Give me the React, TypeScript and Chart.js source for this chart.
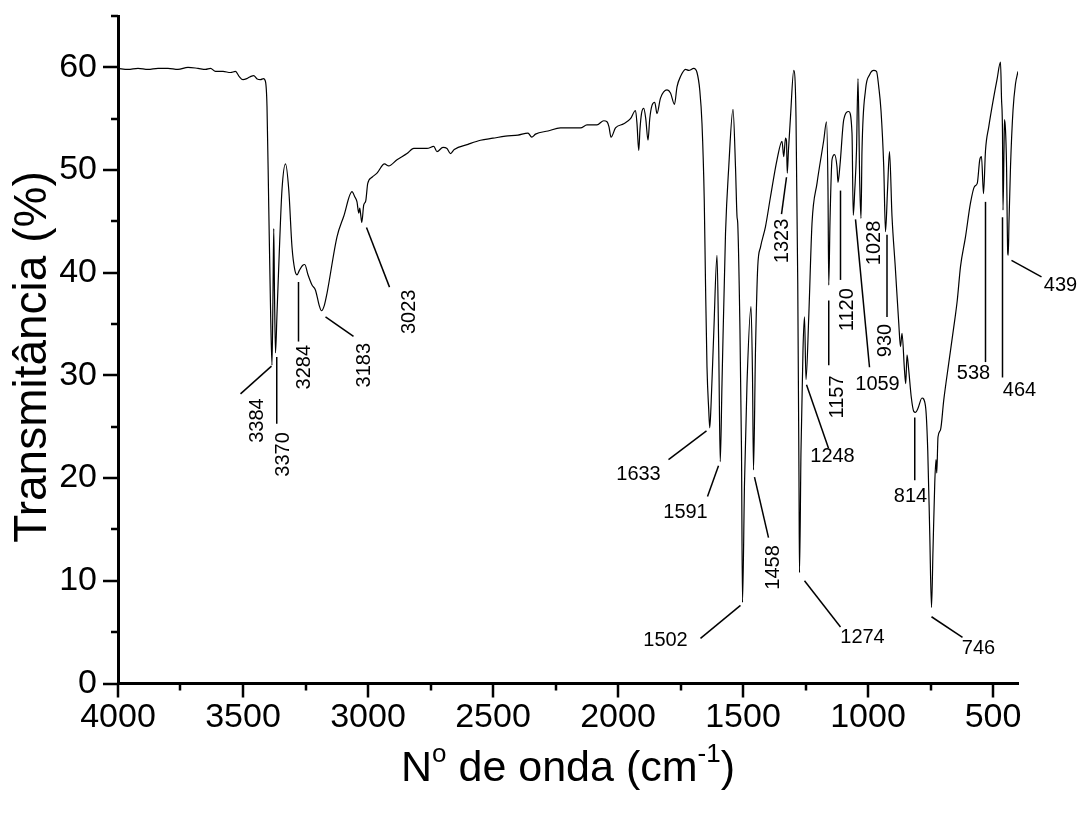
import React, { useEffect, useRef } from 'react';
import { Chart, registerables } from 'chart.js';

Chart.register(...registerables);

// ---------- DATA ----------
const wavenumbers: number[] = [
  4000, 3960, 3920, 3880, 3840, 3800, 3760, 3720, 3680, 3650, 3630, 3610, 3580, 3550, 3530, 3515, 3500, 3485, 3470, 3457,
  3445, 3430, 3418, 3410, 3404, 3397, 3390, 3384, 3380, 3377, 3374, 3370, 3364, 3353, 3344, 3330, 3317, 3304, 3293, 3284,
  3275, 3262, 3253, 3240, 3224, 3210, 3195, 3186, 3175, 3164, 3124, 3097, 3064, 3053, 3044, 3037, 3033, 3028, 3025, 3017,
  3009, 3001, 2984, 2964, 2934, 2917, 2884, 2844, 2817, 2764, 2737, 2724, 2700, 2684, 2670, 2655, 2600, 2550, 2500, 2450,
  2400, 2360, 2345, 2330, 2280, 2230, 2150, 2124, 2084, 2057, 2044, 2036, 2028, 2010, 1977, 1950, 1930, 1924, 1917, 1912,
  1906, 1897, 1889, 1880, 1873, 1864, 1853, 1844, 1830, 1804, 1790, 1774, 1764, 1750, 1730, 1717, 1697, 1684, 1673, 1664,
  1655, 1650, 1644, 1637, 1633, 1628, 1617, 1604, 1597, 1591, 1584, 1570, 1557, 1540, 1530, 1524, 1521, 1513, 1506, 1502,
  1494, 1484, 1468, 1462, 1458, 1450, 1441, 1430, 1410, 1390, 1364, 1344, 1337, 1330, 1326, 1323, 1318, 1310, 1297, 1288,
  1281, 1276, 1274, 1268, 1260, 1254, 1248, 1237, 1224, 1204, 1177, 1166, 1160, 1157, 1152, 1144, 1134, 1124, 1120, 1112,
  1097, 1077, 1064, 1059, 1053, 1046, 1040, 1033, 1028, 1024, 1010, 993, 977, 966, 957, 948, 937, 930, 922, 914,
  904, 891, 877, 870, 864, 854, 849, 844, 837, 827, 817, 810, 800, 784, 770, 761, 753, 746, 740, 733,
  728, 725, 720, 710, 697, 677, 657, 643, 630, 610, 590, 574, 563, 553, 546, 538, 530, 517, 497, 484,
  470, 466, 462, 460, 456, 454, 450, 446, 441, 439, 436, 430, 420, 410, 400,
];

const transmittance: number[] = [
  59.9, 59.8, 59.9, 59.8, 59.9, 59.9, 59.8, 60.0, 59.9, 59.8, 59.9, 59.6, 59.6, 59.5, 59.6, 59.1, 58.8, 58.9, 59.1, 59.2,
  58.9, 58.8, 58.9, 58.6, 56.2, 46.4, 36.7, 31.0, 38.0, 44.3, 38.0, 32.2, 36.0, 43.2, 48.1, 50.6, 48.1, 42.5, 40.3, 39.8,
  40.2, 40.7, 40.8, 39.8, 38.8, 38.3, 36.8, 36.3, 36.8, 38.0, 43.5, 45.5, 47.9, 47.4, 46.9, 45.8, 46.3, 45.4, 44.9, 46.6,
  47.0, 48.7, 49.3, 49.7, 50.6, 50.4, 51.0, 51.6, 52.1, 52.1, 52.3, 51.8, 52.2, 52.1, 51.6, 52.0, 52.5, 52.9, 53.1, 53.3,
  53.4, 53.6, 53.2, 53.5, 53.8, 54.1, 54.1, 54.4, 54.4, 54.8, 54.7, 54.2, 53.2, 54.1, 54.5, 55.0, 55.8, 54.5, 51.9, 54.0,
  55.5, 56.0, 55.0, 52.9, 55.0, 56.3, 56.6, 55.5, 57.0, 57.8, 57.5, 56.4, 58.1, 59.1, 59.8, 59.7, 59.9, 59.5, 57.8, 54.5,
  47.1, 39.0, 30.8, 26.6, 24.9, 27.0, 34.1, 41.7, 32.5, 21.6, 29.2, 43.8, 50.3, 55.9, 50.3, 45.5, 44.8, 35.7, 22.7, 7.9,
  19.5, 29.2, 36.7, 30.0, 20.8, 32.5, 40.6, 42.5, 44.5, 47.4, 51.0, 52.8, 51.3, 53.1, 52.8, 49.7, 52.0, 55.2, 59.7, 55.2,
  39.0, 19.5, 10.8, 22.7, 32.5, 35.7, 29.6, 35.7, 44.8, 48.7, 52.9, 54.7, 48.0, 38.8, 45.0, 51.0, 51.5, 50.3, 48.8, 50.5,
  54.9, 55.7, 53.6, 45.6, 48.0, 51.9, 58.9, 48.7, 45.3, 51.9, 57.8, 59.3, 59.7, 59.6, 58.1, 55.8, 50.3, 44.0, 48.0, 51.8,
  45.5, 40.6, 35.1, 32.8, 34.1, 30.5, 29.2, 32.0, 30.5, 27.9, 26.5, 26.4, 26.8, 27.8, 27.0, 22.7, 14.6, 7.4, 13.0, 19.5,
  21.8, 20.5, 24.0, 24.7, 27.6, 31.2, 34.7, 37.3, 40.6, 43.5, 46.8, 48.4, 48.7, 51.0, 51.3, 47.7, 51.9, 54.2, 57.1, 58.8,
  60.5, 57.0, 53.6, 46.1, 52.0, 54.9, 53.9, 50.7, 41.9, 41.7, 45.0, 50.3, 55.8, 58.4, 59.6,
];

const xTickValues: number[] = [4000, 3750, 3500, 3250, 3000, 2750, 2500, 2250, 2000, 1750, 1500, 1250, 1000, 750, 500];
const yTickValues: number[] = [0, 5, 10, 15, 20, 25, 30, 35, 40, 45, 50, 55, 60, 65];

// peak annotations (label text, leader line ends and label centre, all in data units)
const peakLabels: string[] = [
  '3384', '3370', '3284', '3183', '3023', '1633', '1591', '1502', '1458', '1323', '1274', '1248',
  '1157', '1120', '1059', '1028', '930', '814', '746', '538', '464', '439',
];
const leaderFrom: (number[] | null)[] = [
  [3386, 30.9], [3365, 31.8], [3278, 39.1], [3170, 35.7], [3006, 44.4], [1646, 24.6], [1598, 21.2], [1510, 7.6],
  [1454, 20.1], [1326, 49.3], [1254, 10.0], [1246, 29.1], [1157, 37.3], [1110, 48.0], [1050, 45.2], null,
  [924, 43.7], [813, 25.9], [746, 6.5], [530, 46.9], [462, 45.4], [426, 41.2],
];
const leaderTo: (number[] | null)[] = [
  [3510, 28.2], [3365, 25.3], [3278, 33.3], [3058, 33.8], [2914, 38.6], [1798, 21.8], [1642, 18.2], [1670, 4.4],
  [1398, 14.2], [1346, 45.7], [1110, 5.5], [1158, 22.9], [1157, 31.0], [1110, 39.3], [994, 30.8], null,
  [924, 35.7], [813, 19.8], [622, 4.5], [530, 31.3], [462, 29.8], [306, 39.6],
];
const labelAt: number[][] = [
  [3442, 25.6], [3338, 22.3], [3254, 30.8], [3014, 31.0], [2834, 36.2], [1918, 20.4], [1730, 16.7], [1810, 4.2],
  [1378, 11.3], [1342, 43.1], [1022, 4.5], [1142, 22.1], [1122, 27.9], [1082, 36.4], [962, 29.1], [974, 42.9],
  [932, 33.4], [830, 18.2], [558, 3.4], [578, 30.2], [394, 28.5], [230, 38.8],
];
const labelVertical: boolean[] = [
  true, true, true, true, true, false, false, false, true, true, false, false,
  true, true, false, true, true, false, false, false, false, false,
];

const FONT = "'Liberation Sans', Arial, Helvetica, sans-serif";

const overlayPlugin = {
  id: 'overlay',
  afterDraw(chart: any) {
    const ctx = chart.ctx as CanvasRenderingContext2D;
    const xs = chart.scales.x;
    const ys = chart.scales.y;
    const area = chart.chartArea;
    ctx.save();
    ctx.strokeStyle = '#000';
    ctx.fillStyle = '#000';
    // tick marks
    ctx.lineWidth = 2.5;
    ctx.beginPath();
    xTickValues.forEach((v) => {
      const px = Math.round(xs.getPixelForValue(v));
      const len = v % 500 === 0 ? 14 : 7;
      ctx.moveTo(px, area.bottom);
      ctx.lineTo(px, area.bottom + len);
    });
    yTickValues.forEach((v) => {
      const py = Math.round(ys.getPixelForValue(v));
      const len = v % 10 === 0 ? 15 : 7;
      ctx.moveTo(area.left, py);
      ctx.lineTo(area.left - len, py);
    });
    ctx.stroke();

    // peak annotations
    ctx.lineWidth = 1.5;
    ctx.font = `20px ${FONT}`;
    ctx.textAlign = 'center';
    ctx.textBaseline = 'middle';
    peakLabels.forEach((lab, i) => {
      const a = leaderFrom[i];
      const b = leaderTo[i];
      if (a && b) {
        ctx.beginPath();
        ctx.moveTo(xs.getPixelForValue(a[0]), ys.getPixelForValue(a[1]));
        ctx.lineTo(xs.getPixelForValue(b[0]), ys.getPixelForValue(b[1]));
        ctx.stroke();
      }
      const px = xs.getPixelForValue(labelAt[i][0]);
      const py = ys.getPixelForValue(labelAt[i][1]);
      ctx.save();
      ctx.translate(px, py);
      if (labelVertical[i]) ctx.rotate(-Math.PI / 2);
      ctx.fillText(lab, 0, 0);
      ctx.restore();
    });

    // y title
    ctx.save();
    ctx.translate(33, 357);
    ctx.rotate(-Math.PI / 2);
    ctx.font = `46px ${FONT}`;
    ctx.textAlign = 'center';
    ctx.textBaseline = 'middle';
    ctx.fillText('Transmitância (%)', 0, 0);
    ctx.restore();

    // x title with superscripts
    const big = `43px ${FONT}`;
    const small = `26px ${FONT}`;
    const parts: [string, boolean][] = [['N', false], ['o', true], [' de onda (cm', false], ['-1', true], [')', false]];
    let total = 0;
    parts.forEach(([t, sup]) => {
      ctx.font = sup ? small : big;
      total += ctx.measureText(t).width;
    });
    let cx = (area.left + area.right) / 2 - total / 2;
    const base = 781;
    ctx.textAlign = 'left';
    ctx.textBaseline = 'alphabetic';
    parts.forEach(([t, sup]) => {
      ctx.font = sup ? small : big;
      ctx.fillText(t, cx, sup ? base - 19 : base);
      cx += ctx.measureText(t).width;
    });
    ctx.restore();
  },
};

export default function App() {
  const ref = useRef<HTMLCanvasElement | null>(null);
  useEffect(() => {
    if (!ref.current) return;
    const points = wavenumbers.map((x, i) => ({ x, y: transmittance[i] }));
    const chart = new Chart(ref.current, {
      type: 'line',
      data: {
        datasets: [
          {
            data: points,
            borderColor: '#000',
            borderWidth: 1.2,
            pointRadius: 0,
            fill: false,
            cubicInterpolationMode: 'monotone',
          },
        ],
      },
      options: {
        animation: false,
        responsive: false,
        devicePixelRatio: 1,
        layout: { padding: { left: 0, top: 16, right: 63, bottom: 0 } },
        plugins: { legend: { display: false }, tooltip: { enabled: false } },
        scales: {
          x: {
            type: 'linear',
            reverse: true,
            min: 400,
            max: 4000,
            afterBuildTicks: (s: any) => {
              s.ticks = xTickValues.map((v) => ({ value: v }));
            },
            ticks: {
              autoSkip: false,
              maxRotation: 0,
              padding: 0,
              color: '#000',
              font: { family: FONT, size: 34 },
              callback: (v: any) => (Number(v) % 500 === 0 ? String(v) : null),
            },
            grid: { display: true, drawOnChartArea: false, drawTicks: true, tickLength: 14, color: 'rgba(0,0,0,0)' },
            border: { display: true, color: '#000', width: 3 },
            afterFit: (s: any) => {
              s.height = 129.5;
              s.paddingLeft = 0;
              s.paddingRight = 0;
            },
          },
          y: {
            type: 'linear',
            min: 0,
            max: 65,
            afterBuildTicks: (s: any) => {
              s.ticks = yTickValues.map((v) => ({ value: v }));
            },
            ticks: {
              autoSkip: false,
              padding: 6,
              color: '#000',
              font: { family: FONT, size: 34 },
              callback: (v: any) => (Number(v) % 10 === 0 ? String(v) : null),
            },
            grid: { display: true, drawOnChartArea: false, drawTicks: true, tickLength: 15, color: 'rgba(0,0,0,0)' },
            border: { display: true, color: '#000', width: 3 },
            afterFit: (s: any) => {
              s.width = 118;
              s.paddingTop = 0;
              s.paddingBottom = 0;
            },
          },
        },
      },
      plugins: [overlayPlugin],
    } as any);
    return () => chart.destroy();
  }, []);
  return (
    <div style={{ position: 'fixed', left: 0, top: 0, width: 1081, height: 813, background: '#fff' }}>
      <canvas ref={ref} width={1081} height={813} />
    </div>
  );
}
